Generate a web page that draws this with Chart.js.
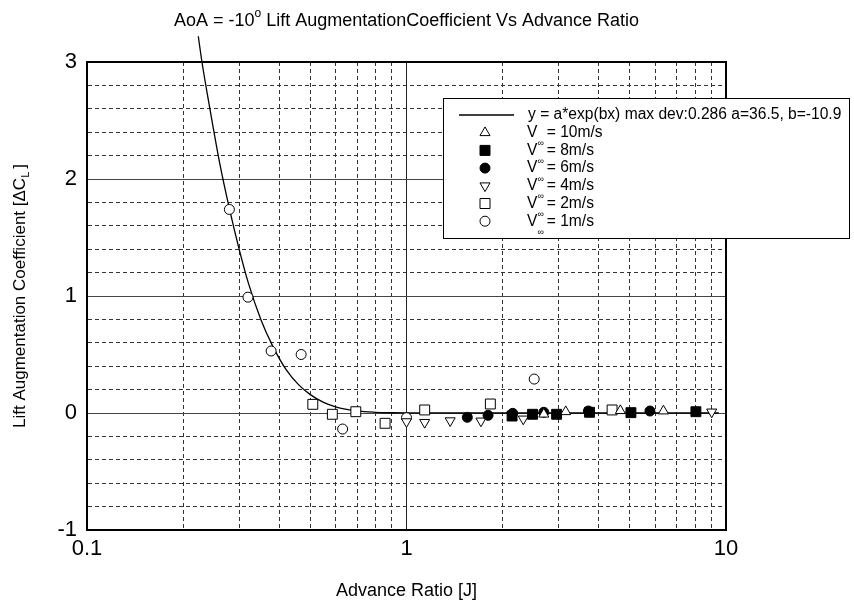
<!DOCTYPE html>
<html>
<head>
<meta charset="utf-8">
<script src="https://cdn.jsdelivr.net/npm/chart.js@4.4.0/dist/chart.umd.min.js"></script>
<style>
    html, body
    {
        margin: 0;
        padding: 0;
        background: #fff;
    }

    #wrap
    {
        width: 854px;
        height: 603px;
    }
</style>
</head>
<body>
<div id="wrap"><canvas id="chart" width="854" height="603"></canvas></div>
<script>
// advance ratio J / lift augmentation dCL
const speed1X = [0.279, 0.319, 0.377, 0.468, 0.631, 1.0, 2.51];
const speed1Y = [1.74, 0.99, 0.53, 0.50, -0.137, -0.04, 0.29];

const speed2X = [0.509, 0.586, 0.694, 0.857, 1.14, 1.83, 4.4];
const speed2Y = [0.074, -0.011, 0.011, -0.088, 0.026, 0.077, 0.026];

const speed4X = [1.0, 1.14, 1.37, 1.71, 2.32, 9.02];
const speed4Y = [-0.074, -0.08, -0.066, -0.068, -0.051, 0.009];

const speed6X = [1.55, 1.80, 2.15, 2.69, 3.71, 5.78];
const speed6Y = [-0.037, -0.02, -0.003, 0.006, 0.017, 0.017];

const speed8X = [2.14, 2.48, 2.95, 3.74, 5.04, 8.05];
const speed8Y = [-0.026, -0.011, -0.011, 0.006, 0.003, 0.011];

const speed10X = [2.69, 3.15, 4.67, 6.37];
const speed10Y = [-0.01, 0.011, 0.02, 0.017];

// fitted curve as drawn
const fitX = [0.223, 0.229, 0.24, 0.26, 0.28, 0.30, 0.32, 0.35, 0.38, 0.42, 0.46, 0.50, 0.55, 0.60, 0.70, 0.80, 0.90, 1.0, 1.5, 2, 3, 5, 9.5];
const fitY = [3.22, 3.00, 2.67, 2.14, 1.73, 1.39, 1.11, 0.80, 0.58, 0.37, 0.24, 0.157, 0.091, 0.053, 0.018, 0.006, 0.002, 0.0007, 0, 0, 0, 0, 0];

const xGridValues = [0.1, 0.2, 0.3, 0.4, 0.5, 0.6, 0.7, 0.8, 0.9, 1, 2, 3, 4, 5, 6, 7, 8, 9, 10];
const xTickLabels = { "0.1": "0.1", "1": "1", "10": "10" };
const yGridValues = [-1, -0.8, -0.6, -0.4, -0.2, 0, 0.2, 0.4, 0.6, 0.8, 1, 1.2, 1.4, 1.6, 1.8, 2, 2.2, 2.4, 2.6, 2.8, 3];
const yTickLabels = { "-1": "-1", "0": "0", "1": "1", "2": "2", "3": "3" };

const legendRows =
[
    { kind: "line", text: "y = a*exp(bx) max dev:0.286 a=36.5, b=-10.9" },
    { kind: "triangle", fill: false, rot: 0, speed: "10m/s" },
    { kind: "rect", fill: true, rot: 0, speed: "8m/s" },
    { kind: "circle", fill: true, rot: 0, speed: "6m/s" },
    { kind: "triangle", fill: false, rot: 180, speed: "4m/s" },
    { kind: "rect", fill: false, rot: 0, speed: "2m/s" },
    { kind: "circle", fill: false, rot: 0, speed: "1m/s" }
];

const FONT = "'Liberation Sans', Arial, sans-serif";

function toPoints(xs, ys)
{
    return xs.map((x, i) =>
    {
        return { x: x, y: ys[i] };
    });
}

function markerRadius(style)
{
    if (style === "rect")
    {
        return 7;
    }

    if (style === "triangle")
    {
        return 5.8;
    }

    return 5;
}

function markerSet(label, xs, ys, style, filled, rotation)
{
    return {
        label: label,
        data: toPoints(xs, ys),
        showLine: false,
        pointStyle: style,
        rotation: rotation,
        pointRadius: markerRadius(style),
        pointBorderWidth: 1,
        pointBorderColor: "#000",
        pointBackgroundColor: filled ? "#000" : "#fff",
        order: 1
    };
}

function isMajor(v)
{
    return Math.abs(v - Math.round(v)) < 1e-6;
}

function isDecade(v)
{
    const l = Math.log10(v);
    return Math.abs(l - Math.round(l)) < 1e-6;
}

function drawMarker(ctx, kind, filled, rot, x, y)
{
    ctx.save();
    ctx.translate(x, y);
    ctx.rotate(rot * Math.PI / 180);
    ctx.beginPath();

    if (kind === "circle")
    {
        ctx.arc(0, 0, 5, 0, Math.PI * 2);
    }
    else if (kind === "rect")
    {
        ctx.rect(-5, -5, 10, 10);
    }
    else
    {
        const r = 5.8;
        ctx.moveTo(0, -r);
        ctx.lineTo(r * 0.866, r * 0.5);
        ctx.lineTo(-r * 0.866, r * 0.5);
        ctx.closePath();
    }

    ctx.fillStyle = filled ? "#000" : "#fff";
    ctx.fill();
    ctx.lineWidth = 1;
    ctx.strokeStyle = "#000";
    ctx.stroke();
    ctx.restore();
}

const decorPlugin =
{
    id: "decor",
    afterDraw(chart)
    {
        const ctx = chart.ctx;
        const area = chart.chartArea;

        ctx.save();

        // frame around the plot
        ctx.strokeStyle = "#000";
        ctx.lineWidth = 2;
        ctx.strokeRect(area.left, area.top, area.right - area.left, area.bottom - area.top);

        ctx.fillStyle = "#000";
        ctx.textBaseline = "alphabetic";

        // title with superscript degree
        const tA = "AoA = -10";
        const tB = " Lift AugmentationCoefficient Vs Advance Ratio";
        ctx.font = "18px " + FONT;
        const wA = ctx.measureText(tA).width;
        const wB = ctx.measureText(tB).width;
        ctx.font = "12px " + FONT;
        const wO = ctx.measureText("o").width;
        const total = wA + wO + wB;
        let tx = (area.left + area.right) / 2 - total / 2;
        ctx.font = "18px " + FONT;
        ctx.textAlign = "left";
        ctx.fillText(tA, tx, 26);
        ctx.font = "12px " + FONT;
        ctx.fillText("o", tx + wA, 17);
        ctx.font = "18px " + FONT;
        ctx.fillText(tB, tx + wA + wO, 26);

        // x axis title
        ctx.textAlign = "center";
        ctx.font = "18px " + FONT;
        ctx.fillText("Advance Ratio [J]", (area.left + area.right) / 2, 596);

        // y axis title, rotated, with subscript L
        ctx.save();
        ctx.translate(25, (area.top + area.bottom) / 2);
        ctx.rotate(-Math.PI / 2);
        const yA = "Lift Augmentation Coefficient [\u0394C";
        const yL = "L";
        const yB = "]";
        ctx.font = "17px " + FONT;
        const wyA = ctx.measureText(yA).width;
        const wyB = ctx.measureText(yB).width;
        ctx.font = "11px " + FONT;
        const wyL = ctx.measureText(yL).width;
        let yx = -(wyA + wyL + wyB + 3) / 2;
        ctx.textAlign = "left";
        ctx.font = "17px " + FONT;
        ctx.fillText(yA, yx, 0);
        ctx.font = "11px " + FONT;
        ctx.fillText(yL, yx + wyA, 4);
        ctx.font = "17px " + FONT;
        ctx.fillText(yB, yx + wyA + wyL + 3, 0);
        ctx.restore();

        // legend box
        const lx = 443;
        const ly = 98;
        const lw = 406;
        const lh = 140;
        ctx.fillStyle = "#fff";
        ctx.fillRect(lx, ly, lw, lh);
        ctx.strokeStyle = "#000";
        ctx.lineWidth = 1;
        ctx.strokeRect(lx + 0.5, ly + 0.5, lw, lh);

        ctx.fillStyle = "#000";
        ctx.textAlign = "left";
        ctx.textBaseline = "middle";

        legendRows.forEach((row, i) =>
        {
            const cy = 115 + i * 17.7;

            if (row.kind === "line")
            {
                ctx.beginPath();
                ctx.moveTo(459, cy);
                ctx.lineTo(514, cy);
                ctx.lineWidth = 1.3;
                ctx.stroke();
                ctx.font = "15.6px " + FONT;
                ctx.fillText(row.text, 528, cy);
                return;
            }

            drawMarker(ctx, row.kind, row.fill, row.rot, 485, cy);

            ctx.fillStyle = "#000";
            ctx.font = "15.6px " + FONT;
            ctx.fillText("V", 527, cy);
            const wV = ctx.measureText("V").width;
            ctx.font = "9px " + FONT;
            ctx.fillText("\u221E", 527 + wV, cy + 11);
            ctx.font = "15.6px " + FONT;
            ctx.fillText(" = " + row.speed, 527 + wV + 5, cy);
        });

        ctx.restore();
    }
};

const datasets =
[
    {
        label: "fit",
        data: toPoints(fitX, fitY),
        showLine: true,
        borderColor: "#000",
        borderWidth: 1.3,
        pointRadius: 0,
        cubicInterpolationMode: "monotone",
        clip: false,
        order: 2
    },
    markerSet("10m/s", speed10X, speed10Y, "triangle", false, 0),
    markerSet("8m/s", speed8X, speed8Y, "rect", true, 0),
    markerSet("6m/s", speed6X, speed6Y, "circle", true, 0),
    markerSet("4m/s", speed4X, speed4Y, "triangle", false, 180),
    markerSet("2m/s", speed2X, speed2Y, "rect", false, 0),
    markerSet("1m/s", speed1X, speed1Y, "circle", false, 0)
];

new Chart(document.getElementById("chart").getContext("2d"),
{
    type: "scatter",
    data:
    {
        datasets: datasets
    },
    options:
    {
        animation: false,
        responsive: false,
        layout:
        {
            padding:
            {
                top: 62,
                right: 128,
                left: 0,
                bottom: 0
            }
        },
        plugins:
        {
            legend:
            {
                display: false
            },
            title:
            {
                display: false
            },
            tooltip:
            {
                enabled: false
            }
        },
        scales:
        {
            x:
            {
                type: "logarithmic",
                min: 0.1,
                max: 10,
                afterBuildTicks(scale)
                {
                    scale.ticks = xGridValues.map((v) =>
                    {
                        return { value: v };
                    });
                },
                afterFit(scale)
                {
                    scale.height = 73;
                },
                ticks:
                {
                    autoSkip: false,
                    maxRotation: 0,
                    padding: 6,
                    color: "#000",
                    font:
                    {
                        family: FONT,
                        size: 22
                    },
                    callback(value)
                    {
                        const key = String(Number(value.toPrecision(3)));
                        return xTickLabels[key] ?? "";
                    }
                },
                grid:
                {
                    drawTicks: false,
                    lineWidth: 1,
                    color(ctx)
                    {
                        if (ctx.tick && isDecade(ctx.tick.value))
                        {
                            return "#222";
                        }

                        return "#333";
                    }
                },
                border:
                {
                    display: true,
                    color: "#000",
                    width: 2,
                    dash(ctx)
                    {
                        if (ctx.tick && !isDecade(ctx.tick.value))
                        {
                            return [4, 3];
                        }

                        return [];
                    }
                }
            },
            y:
            {
                type: "linear",
                min: -1,
                max: 3,
                afterBuildTicks(scale)
                {
                    scale.ticks = yGridValues.map((v) =>
                    {
                        return { value: v };
                    });
                },
                afterFit(scale)
                {
                    scale.width = 87;
                },
                ticks:
                {
                    autoSkip: false,
                    padding: 10,
                    color: "#000",
                    font:
                    {
                        family: FONT,
                        size: 22
                    },
                    callback(value)
                    {
                        const key = String(Math.round(value * 10) / 10);
                        return yTickLabels[key] ?? "";
                    }
                },
                grid:
                {
                    drawTicks: false,
                    lineWidth: 1,
                    color(ctx)
                    {
                        if (ctx.tick && isMajor(ctx.tick.value))
                        {
                            return "#444";
                        }

                        return "#333";
                    }
                },
                border:
                {
                    display: true,
                    color: "#000",
                    width: 2,
                    dash(ctx)
                    {
                        if (ctx.tick && !isMajor(ctx.tick.value))
                        {
                            return [4, 3];
                        }

                        return [];
                    }
                }
            }
        }
    },
    plugins: [decorPlugin]
});
</script>
</body>
</html>
